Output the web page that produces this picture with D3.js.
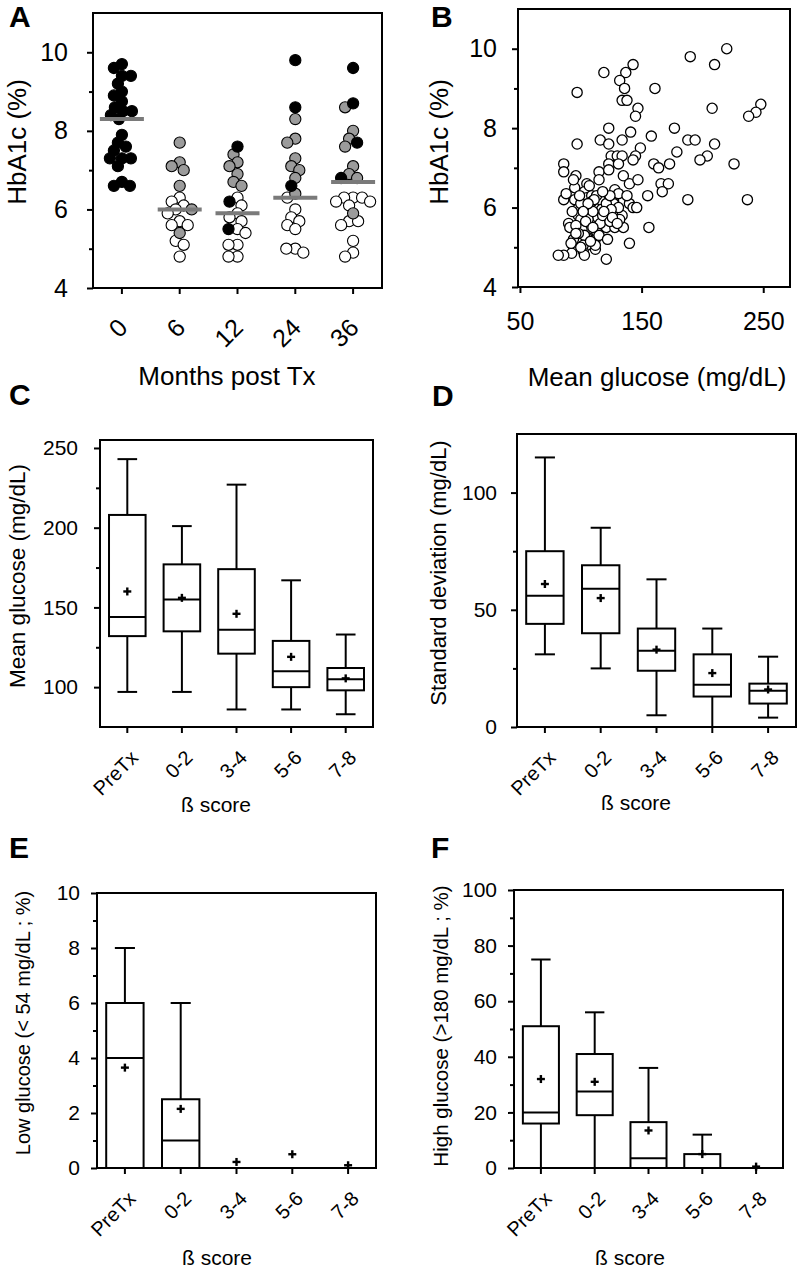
<!DOCTYPE html>
<html>
<head>
<meta charset="utf-8">
<script src="https://d3js.org/d3.v7.min.js"></script>
<style>
  body { margin: 0; background: #fff; }
  svg text { font-family: "Liberation Sans", Arial, sans-serif; fill: #000; }
</style>
</head>
<body>
<script>
// ---- panel A : HbA1c by months post Tx
const months = ["0", "6", "12", "24", "36"];
const hbaBlack = [
  [9.7, 9.6, 9.4, 9.4, 9.2, 9.0, 8.9, 8.75, 8.6, 8.5, 8.5, 8.4, 8.3, 7.9, 7.7, 7.6, 7.5, 7.3, 7.3, 7.3, 7.1, 6.7, 6.6, 6.6],
  [],
  [7.6, 6.2, 5.5],
  [9.8, 8.6, 6.6],
  [9.6, 8.7, 7.7, 6.8]
];
const hbaGrey = [
  [],
  [7.7, 7.2, 7.1, 7.0, 6.6, 6.0, 5.4],
  [7.4, 7.2, 7.1, 6.9, 6.7, 6.6],
  [8.3, 7.8, 7.7, 7.3, 7.1, 7.0, 6.8, 6.4],
  [8.6, 8.0, 7.8, 7.6, 7.1, 6.9, 6.8, 5.9]
];
const hbaWhite = [
  [],
  [6.3, 6.2, 6.1, 6.0, 5.9, 5.7, 5.6, 5.6, 5.2, 5.1, 4.8],
  [6.3, 6.1, 5.9, 5.8, 5.7, 5.5, 5.4, 5.1, 5.1, 4.8, 4.8],
  [6.3, 6.0, 5.8, 5.7, 5.6, 5.5, 5.0, 5.0, 4.9],
  [6.3, 6.3, 6.3, 6.2, 6.2, 6.1, 5.7, 5.7, 5.6, 5.2, 4.9, 4.8]
];
const hbaMedian = [8.3, 6.0, 5.9, 6.3, 6.7];

// ---- panel B : HbA1c vs mean glucose
const glucoseMean = [220,190,210,143,119,137,132,136,161,97, 134,138,147,208,248,244,238,145,123,177,
  141,158,116,134,188,194,97,123,210,149, 179,204,198,226,160,164,173,125,130,134,
  145,123,131,143,86,86,115,115,96,105, 135,140,147,123,166,172,167,155,188,237,
  86,95,95,97,98,103,105,103,109,112, 108,109,106,105,105,98,94,92.5,86,81.5,
  102,103,112,112,121,114,117,120,116,121, 113,121,127,128,128,131,134,135,132,140,
  143,146,140,156,90,91,94,92,100,101, 113,116,117,103,112,127,121,109,113,100,
  96,102,118,124,106,110,98,131,125,107, 88,93,99,104,108,111,115,119,124,126,
  130,100,96,110,118,122,106,102,138,94];
const glucoseHba = [10.0,9.8,9.6,9.6,9.4,9.4,9.2,9.0,9.0,8.9, 8.7,8.7,8.5,8.5,8.6,8.4,8.3,8.3,8.0,8.0,
  7.9,7.8,7.7,7.7,7.7,7.7,7.6,7.6,7.6,7.5, 7.4,7.3,7.2,7.1,7.1,7.0,7.1,7.3,7.3,7.3,
  7.3,7.1,7.1,7.2,7.1,6.9,6.9,6.7,6.8,6.6, 6.8,6.6,6.7,6.95,6.6,6.6,6.4,6.3,6.2,6.2,
  6.2,6.5,6.2,5.95,5.8,6.4,6.25,6.05,6.3,6.0, 5.8,5.6,5.45,5.25,5.05,5.2,5.0,4.85,4.8,4.8,
  4.9,4.8,5.2,4.95,4.7,5.75,5.6,6.05,6.2,5.85, 5.5,5.5,6.15,5.5,6.45,6.35,5.8,5.5,5.7,6.1,
  6.0,6.0,5.1,5.5,5.6,5.5,5.2,5.1,5.7,5.45, 5.4,5.6,5.95,5.3,5.05,6.1,6.1,6.15,6.3,6.1,
  5.55,5.05,5.8,5.65,5.7,5.9,5.35,6.0,5.95,6.55, 6.35,5.9,6.3,5.65,5.15,6.2,5.3,5.9,6.3,5.75,
  5.6,5.0,5.35,5.5,6.4,5.2,6.1,5.9,6.3,6.7];

// ---- panels C-F : box plots by beta score
const betaScores = ["PreTx", "0-2", "3-4", "5-6", "7-8"];

const meanLow  = [97, 97, 86, 86, 83];
const meanQ1   = [132, 135, 121, 100, 98];
const meanMed  = [144, 155, 136, 110, 105];
const meanQ3   = [208, 177, 174, 129, 112];
const meanHigh = [243, 201, 227, 167, 133];
const meanAvg  = [160, 156, 146, 119, 105.5];

const sdLow  = [31, 25, 5, 0, 4];
const sdQ1   = [44, 40, 24, 13, 10];
const sdMed  = [56, 59, 32.5, 18, 15.5];
const sdQ3   = [75, 69, 42, 31, 18.5];
const sdHigh = [115, 85, 63, 42, 30];
const sdAvg  = [61, 55, 33, 23, 16];

const lowLow  = [0, 0, 0, 0, 0];
const lowQ1   = [0, 0, 0, 0, 0];
const lowMed  = [4, 1, 0, 0, 0];
const lowQ3   = [6, 2.5, 0, 0, 0];
const lowHigh = [8, 6, 0, 0, 0];
const lowAvg  = [3.65, 2.15, 0.22, 0.5, 0.1];

const highLow  = [0, 0, 0, 0, 0];
const highQ1   = [16, 19, 0, 0, 0];
const highMed  = [20, 27.5, 3.5, 0, 0];
const highQ3   = [51, 41, 16.5, 5, 0];
const highHigh = [75, 56, 36, 12, 0];
const highAvg  = [32, 31, 13.5, 5, 0.5];

const W = 800, H = 1274;
const svg = d3.select("body").append("svg").attr("width", W).attr("height", H);

function frame(x0, y0, x1, y1) {
  svg.append("rect").attr("x", x0).attr("y", y0)
    .attr("width", x1 - x0).attr("height", y1 - y0)
    .attr("fill", "none").attr("stroke", "#000").attr("stroke-width", 2);
}

function yAxis(y, x0, major, minor, fs, pad) {
  const g = svg.append("g").attr("transform", "translate(" + x0 + ",0)");
  g.call(d3.axisLeft(y).tickValues(major).tickSize(6).tickPadding(pad).tickFormat(d3.format("d")));
  g.select(".domain").remove();
  g.selectAll("line").attr("stroke-width", 2);
  g.selectAll("text").style("font-size", fs + "px").attr("fill", "#000");
  if (minor.length) {
    const m = svg.append("g").attr("transform", "translate(" + x0 + ",0)");
    m.call(d3.axisLeft(y).tickValues(minor).tickSize(4).tickFormat(""));
    m.select(".domain").remove();
    m.selectAll("line").attr("stroke-width", 2);
  }
}

function xBandAxis(x, y0, fs, dx, dy) {
  const g = svg.append("g").attr("transform", "translate(0," + y0 + ")");
  g.call(d3.axisBottom(x).tickSize(6));
  g.select(".domain").remove();
  g.selectAll("line").attr("stroke-width", 2);
  g.selectAll("text")
    .style("font-size", fs + "px")
    .attr("y", 0).attr("dy", "0.35em")
    .attr("text-anchor", "end")
    .attr("transform", "translate(" + dx + "," + dy + ") rotate(-45)");
}

function panelLabel(t, x, y) {
  svg.append("text").attr("x", x).attr("y", y).text(t)
    .style("font-size", "30px").style("font-weight", "bold");
}

function yTitle(t, x, y, fs) {
  svg.append("text").attr("transform", "translate(" + x + "," + y + ") rotate(-90)")
    .attr("text-anchor", "middle").style("font-size", fs + "px").text(t);
}

function xTitle(t, x, y, fs) {
  svg.append("text").attr("x", x).attr("y", y)
    .attr("text-anchor", "middle").style("font-size", fs + "px").text(t);
}

// ================= Panel A
{
  const L = 93, T = 13, R = 382, B = 288;
  const x = d3.scaleBand().domain(months).range([L, R]);
  const y = d3.scaleLinear().domain([4, 11]).range([B, T]);
  const r = 5.6, minD = 8.6;

  const pts = [];
  months.forEach((m, i) => {
    const grp = [];
    hbaWhite[i].forEach(v => grp.push({ v, fill: "#fff", order: 0 }));
    hbaGrey[i].forEach(v => grp.push({ v, fill: "#9b9b9b", order: 1 }));
    hbaBlack[i].forEach(v => grp.push({ v, fill: "#000", order: 2 }));
    grp.sort((a, b) => b.v - a.v);
    const cx = x(m) + x.bandwidth() / 2;
    const placed = [];
    grp.forEach(p => {
      const py = y(p.v);
      let k = 0, off = 0;
      while (true) {
        off = (k % 2 === 0 ? 1 : -1) * Math.ceil(k / 2);
        const ok = placed.every(q => Math.hypot(q.x - (cx + off), q.y - py) >= minD);
        if (ok) break;
        k++;
      }
      p.x = cx + off; p.y = py;
      placed.push(p);
      pts.push(p);
    });
  });
  pts.sort((a, b) => a.order - b.order);

  svg.append("g").selectAll("circle").data(pts).join("circle")
    .attr("cx", d => d.x).attr("cy", d => d.y).attr("r", r)
    .attr("fill", d => d.fill).attr("stroke", "#000").attr("stroke-width", 1.1);

  svg.append("g").selectAll("line").data(hbaMedian).join("line")
    .attr("x1", (d, i) => x(months[i]) + x.bandwidth() / 2 - 22)
    .attr("x2", (d, i) => x(months[i]) + x.bandwidth() / 2 + 22)
    .attr("y1", d => y(d)).attr("y2", d => y(d))
    .attr("stroke", "#7a7a7a").attr("stroke-width", 4);

  frame(L, T, R, B);
  yAxis(y, L, [4, 6, 8, 10], [5, 7, 9], 25, 19);
  xBandAxis(x, B, 25, 1, 35);
  yTitle("HbA1c (%)", 26, 142, 26);
  xTitle("Months post Tx", 227, 385, 26);
  panelLabel("A", 9, 27);
}

// ================= Panel B
{
  const L = 518, T = 9, R = 790, B = 287;
  const x = d3.scaleLinear().domain([48.4, 272]).range([L, R]);
  const y = d3.scaleLinear().domain([4, 11]).range([B, T]);
  const pts = glucoseMean.map((g, i) => ({ g, h: glucoseHba[i] }));
  svg.append("g").selectAll("circle").data(pts).join("circle")
    .attr("cx", d => x(d.g)).attr("cy", d => y(d.h)).attr("r", 5.1)
    .attr("fill", "#fff").attr("stroke", "#000").attr("stroke-width", 1.3);
  frame(L, T, R, B);
  yAxis(y, L, [4, 6, 8, 10], [5, 7, 9], 25, 15);
  const gx = svg.append("g").attr("transform", "translate(0," + B + ")");
  gx.call(d3.axisBottom(x).tickValues([50, 150, 250]).tickSize(6).tickPadding(19));
  gx.select(".domain").remove();
  gx.selectAll("line").attr("stroke-width", 2);
  gx.selectAll("text").style("font-size", "25px");
  yTitle("HbA1c (%)", 448, 142, 26);
  xTitle("Mean glucose (mg/dL)", 657, 386, 26);
  panelLabel("B", 431, 27);
}

// ================= Box panels
function boxPanel(o) {
  const x = d3.scaleBand().domain(betaScores).range([o.L, o.R]);
  const y = d3.scaleLinear().domain(o.domain).range([o.B, o.T]);
  const step = x.step(), bw = step * 0.67, cw = step * 0.36;
  const rows = betaScores.map((c, i) => ({
    c, lo: o.lo[i], q1: o.q1[i], med: o.med[i], q3: o.q3[i], hi: o.hi[i], avg: o.avg[i],
    cx: x(c) + x.bandwidth() / 2
  }));
  const g = svg.append("g").attr("stroke", "#000").attr("stroke-width", 2).attr("fill", "none");
  // whiskers
  g.selectAll(".wu").data(rows).join("line").attr("class", "wu")
    .attr("x1", d => d.cx).attr("x2", d => d.cx)
    .attr("y1", d => y(d.q3)).attr("y2", d => y(d.hi));
  g.selectAll(".wl").data(rows).join("line").attr("class", "wl")
    .attr("x1", d => d.cx).attr("x2", d => d.cx)
    .attr("y1", d => y(d.q1)).attr("y2", d => y(d.lo));
  g.selectAll(".cu").data(rows.filter(d => d.hi > d.q3)).join("line").attr("class", "cu")
    .attr("x1", d => d.cx - cw / 2).attr("x2", d => d.cx + cw / 2)
    .attr("y1", d => y(d.hi)).attr("y2", d => y(d.hi));
  g.selectAll(".cl").data(rows.filter(d => d.lo < d.q1)).join("line").attr("class", "cl")
    .attr("x1", d => d.cx - cw / 2).attr("x2", d => d.cx + cw / 2)
    .attr("y1", d => y(d.lo)).attr("y2", d => y(d.lo));
  // boxes
  g.selectAll("rect").data(rows.filter(d => d.q3 > d.q1)).join("rect")
    .attr("x", d => d.cx - bw / 2).attr("width", bw)
    .attr("y", d => y(d.q3)).attr("height", d => y(d.q1) - y(d.q3))
    .attr("fill", "#fff");
  g.selectAll(".md").data(rows.filter(d => d.q3 > d.q1)).join("line").attr("class", "md")
    .attr("x1", d => d.cx - bw / 2).attr("x2", d => d.cx + bw / 2)
    .attr("y1", d => y(d.med)).attr("y2", d => y(d.med));
  // mean crosses
  const s = 4;
  g.selectAll(".mh").data(rows).join("line").attr("class", "mh")
    .attr("x1", d => d.cx - s).attr("x2", d => d.cx + s)
    .attr("y1", d => y(d.avg)).attr("y2", d => y(d.avg)).attr("stroke-width", 2.4);
  g.selectAll(".mv").data(rows).join("line").attr("class", "mv")
    .attr("x1", d => d.cx).attr("x2", d => d.cx)
    .attr("y1", d => y(d.avg) - s).attr("y2", d => y(d.avg) + s).attr("stroke-width", 2.4);

  frame(o.L, o.T, o.R, o.B);
  yAxis(y, o.L, o.major, o.minor, 21, o.pad);
  xBandAxis(x, o.B, 20, 7, 27);
  yTitle(o.yTitle, o.ytx, o.yty, o.ytfs);
  xTitle("ß score", o.xtx, o.xty, 21);
  panelLabel(o.label, o.lx, o.ly);
}

boxPanel({ L: 100, T: 440, R: 373, B: 727, domain: [75, 255],
  major: [100, 150, 200, 250], minor: [125, 175, 225], pad: 16,
  lo: meanLow, q1: meanQ1, med: meanMed, q3: meanQ3, hi: meanHigh, avg: meanAvg,
  yTitle: "Mean glucose (mg/dL)", ytx: 25, yty: 576, ytfs: 22.5,
  xtx: 216, xty: 812, label: "C", lx: 9, ly: 405 });

boxPanel({ L: 517, T: 434, R: 796, B: 727, domain: [0, 125],
  major: [0, 50, 100], minor: [25, 75], pad: 14,
  lo: sdLow, q1: sdQ1, med: sdMed, q3: sdQ3, hi: sdHigh, avg: sdAvg,
  yTitle: "Standard deviation (mg/dL)", ytx: 446, yty: 573, ytfs: 22,
  xtx: 636, xty: 810, label: "D", lx: 432, ly: 406 });

boxPanel({ L: 97, T: 893, R: 376, B: 1168, domain: [0, 10],
  major: [0, 2, 4, 6, 8, 10], minor: [1, 3, 5, 7, 9], pad: 11,
  lo: lowLow, q1: lowQ1, med: lowMed, q3: lowQ3, hi: lowHigh, avg: lowAvg,
  yTitle: "Low glucose (< 54 mg/dL ; %)", ytx: 30, yty: 1023, ytfs: 20,
  xtx: 217, xty: 1265, label: "E", lx: 9, ly: 858 });

boxPanel({ L: 514, T: 890, R: 783, B: 1168, domain: [0, 100],
  major: [0, 20, 40, 60, 80, 100], minor: [10, 30, 50, 70, 90], pad: 11,
  lo: highLow, q1: highQ1, med: highMed, q3: highQ3, hi: highHigh, avg: highAvg,
  yTitle: "High glucose (>180 mg/dL ; %)", ytx: 448, yty: 1026, ytfs: 20.5,
  xtx: 630, xty: 1265, label: "F", lx: 431, ly: 858 });
</script>
</body>
</html>
